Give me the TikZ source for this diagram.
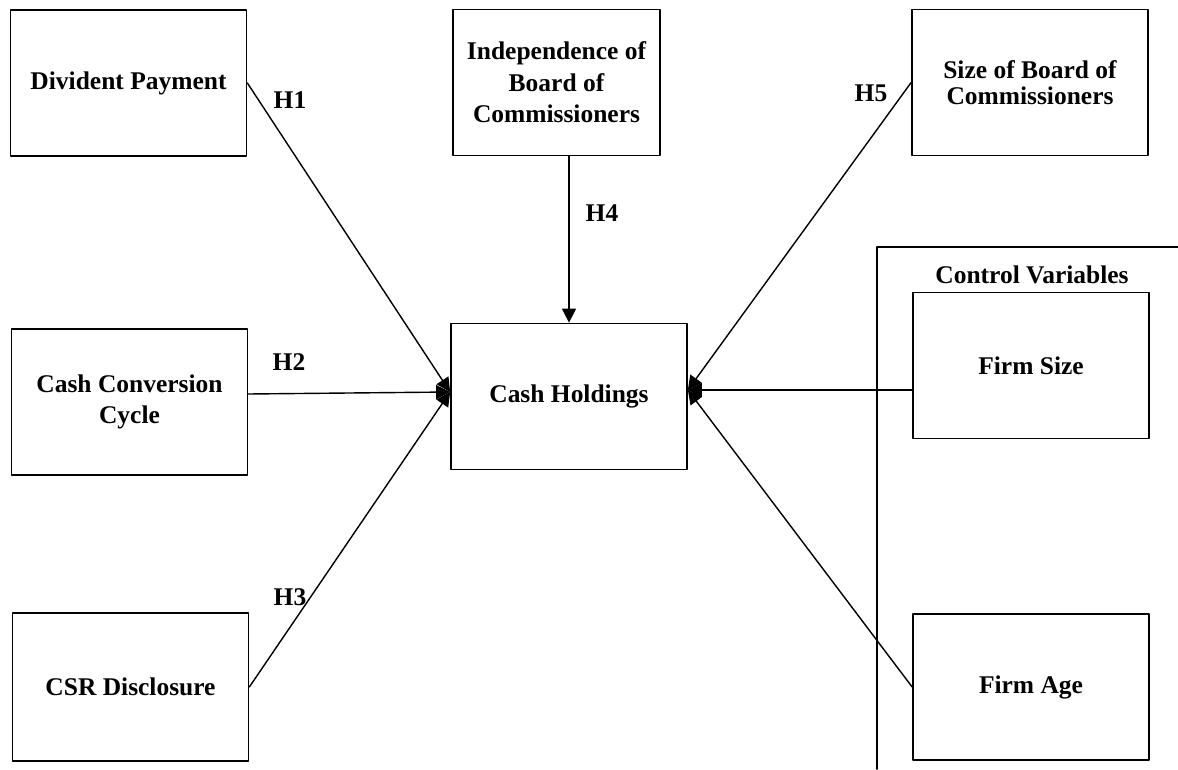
\documentclass[tikz,border=0pt]{standalone}
\usepackage{fontspec}
\setmainfont{Liberation Serif}
\usetikzlibrary{arrows.meta,positioning}
\tikzset{
  box/.style={draw,line width=1pt,minimum width=4.72cm,minimum height=2.92cm,
    align=center,inner sep=2pt},
  link/.style={line width=0.8pt},
  tip/.style={link,-{Triangle[length=0.28cm,width=0.28cm]}},
  hyp/.style={inner sep=1pt},
  every node/.style={font=\fontsize{14.5}{18}\selectfont\bfseries}
}

\begin{document}
\begin{tikzpicture}[x=0.02cm,y=0.02cm,line cap=round,line join=round]
  % page frame (1178 x 769 px)
  \useasboundingbox (0,0) rectangle (1178,769);

  % independent variables
  \node[box] (div) at (128.5,686) {Divident Payment};
  \node[box] (ccc) at (129.5,367) {Cash Conversion\\Cycle};
  \node[box,minimum height=2.96cm] (csr) at (130.5,82) {CSR Disclosure};
  \node[box,minimum width=4.14cm] (indep) at (556.5,686.5)
        {Independence of\\Board of\\Commissioners};
  \node[box,font=\fontsize{14.5}{15}\selectfont\bfseries] (size) at (1030,686.5)
        {Size of Board of\\Commissioners};

  % dependent variable
  \node[box] (cash) at (569,372.5) {Cash Holdings};

  % control variables
  \node[box] (fsize) at (1031,403.5) {Firm Size};
  \node[box] (fage) at (1031,82) {Firm Age};
  \node (ctrl) at (1032,494) {Control Variables};
  \draw[line width=1pt] (877,0) -- (877,522) -- (1178,522);

  % meeting points on the cash box
  \coordinate (cin) at ([yshift=0.09cm]cash.west);
  \coordinate (cout) at ([yshift=0.13cm]cash.east);

  % hypotheses
  \draw[tip] (div.east) -- (cin);
  \draw[tip] ([yshift=0.16cm]ccc.east) -- (cin);
  \draw[tip] (csr.east) -- (cin);
  \draw[tip] (cash.north |- indep.south) -- (cash.north);
  \draw[tip] (size.west) -- (cout);
  \draw[tip] (cout -| fsize.west) -- (cout);
  \draw[tip] (fage.west) -- (cout);

  % labels
  \node[hyp] (h1) at (290,669) {H1};
  \node[hyp] (h2) at (289,407) {H2};
  \node[hyp] (h3) at (290,172) {H3};
  \node[hyp] (h4) at (602,556) {H4};
  \node[hyp] (h5) at (871,676) {H5};
\end{tikzpicture}
\end{document}
